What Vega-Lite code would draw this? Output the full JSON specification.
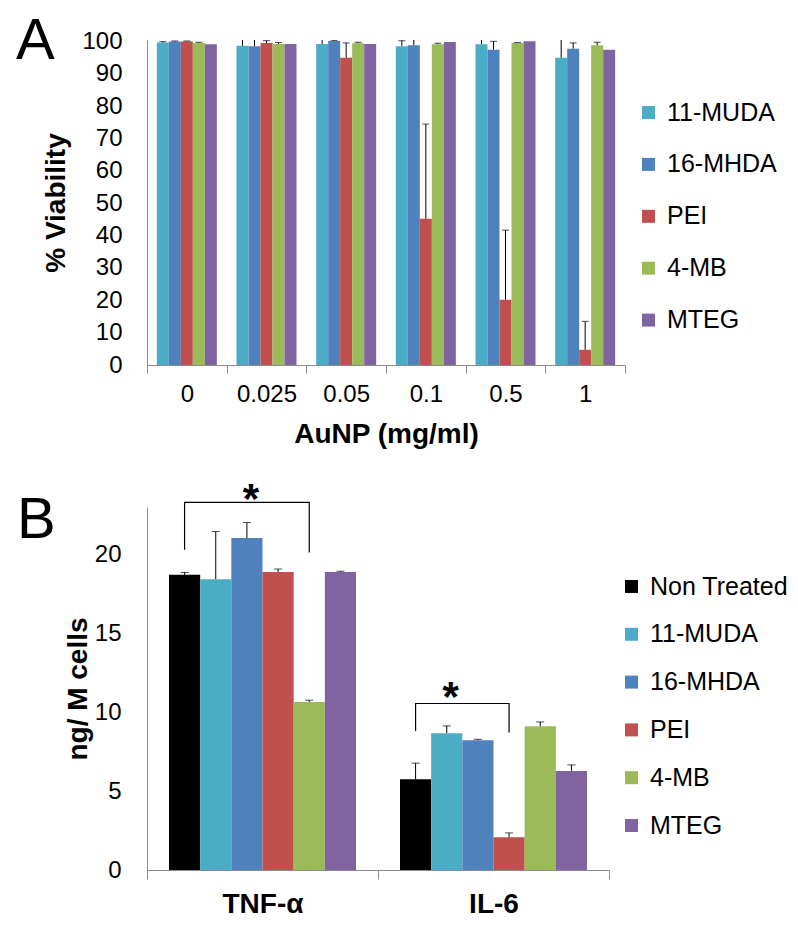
{
  "$schema": "https://vega.github.io/schema/vega-lite/v6.json",
  "background": "white",
  "padding": {"left": 16, "top": 12, "right": 5, "bottom": 5},
  "config": {
    "view": {"stroke": null},
    "font": "Liberation Sans",
    "axis": {"domainColor": "#8c8c8c", "tickColor": "#8c8c8c", "labelColor": "black", "titleColor": "black", "grid": false, "labelFont": "Liberation Sans", "titleFont": "Liberation Sans"},
    "legend": {"symbolType": "square", "symbolSize": 169, "symbolStrokeWidth": 0, "symbolOpacity": 1, "labelFontSize": 25, "labelFont": "Liberation Sans", "labelColor": "black", "labelOffset": 6, "padding": 0, "title": null}
  },
  "datasets": {
    "A": [
      {"conc": "0", "s": "11-MUDA", "v": 99.7, "hi": 100.0},
      {"conc": "0", "s": "16-MHDA", "v": 100.0, "hi": 100.2},
      {"conc": "0", "s": "PEI", "v": 100.0, "hi": 100.2},
      {"conc": "0", "s": "4-MB", "v": 99.6, "hi": 99.8},
      {"conc": "0", "s": "MTEG", "v": 99.2, "hi": 99.2},
      {"conc": "0.025", "s": "11-MUDA", "v": 98.7, "hi": 101},
      {"conc": "0.025", "s": "16-MHDA", "v": 98.6, "hi": 101},
      {"conc": "0.025", "s": "PEI", "v": 99.6, "hi": 100.3},
      {"conc": "0.025", "s": "4-MB", "v": 99.3, "hi": 99.7},
      {"conc": "0.025", "s": "MTEG", "v": 99.3, "hi": 99.3},
      {"conc": "0.05", "s": "11-MUDA", "v": 99.3, "hi": 101},
      {"conc": "0.05", "s": "16-MHDA", "v": 100.2, "hi": 100.4},
      {"conc": "0.05", "s": "PEI", "v": 95.0, "hi": 99.6},
      {"conc": "0.05", "s": "4-MB", "v": 99.5, "hi": 99.8},
      {"conc": "0.05", "s": "MTEG", "v": 99.3, "hi": 99.3},
      {"conc": "0.1", "s": "11-MUDA", "v": 98.6, "hi": 100.3},
      {"conc": "0.1", "s": "16-MHDA", "v": 98.9, "hi": 101},
      {"conc": "0.1", "s": "PEI", "v": 45.2, "hi": 74.5},
      {"conc": "0.1", "s": "4-MB", "v": 99.2, "hi": 99.5},
      {"conc": "0.1", "s": "MTEG", "v": 99.9, "hi": 99.9},
      {"conc": "0.5", "s": "11-MUDA", "v": 99.2, "hi": 101},
      {"conc": "0.5", "s": "16-MHDA", "v": 97.5, "hi": 100.1},
      {"conc": "0.5", "s": "PEI", "v": 20.2, "hi": 41.7},
      {"conc": "0.5", "s": "4-MB", "v": 99.6, "hi": 99.7},
      {"conc": "0.5", "s": "MTEG", "v": 100.1, "hi": 100.1},
      {"conc": "1", "s": "11-MUDA", "v": 95.0, "hi": 101},
      {"conc": "1", "s": "16-MHDA", "v": 97.8, "hi": 99.6},
      {"conc": "1", "s": "PEI", "v": 4.7, "hi": 13.5},
      {"conc": "1", "s": "4-MB", "v": 98.9, "hi": 99.8},
      {"conc": "1", "s": "MTEG", "v": 97.5, "hi": 97.5}
    ],
    "B": [
      {"grp": "TNF-α", "s": "Non Treated", "v": 18.7, "hi": 18.85},
      {"grp": "TNF-α", "s": "11-MUDA", "v": 18.43, "hi": 21.45},
      {"grp": "TNF-α", "s": "16-MHDA", "v": 21.03, "hi": 22.02},
      {"grp": "TNF-α", "s": "PEI", "v": 18.88, "hi": 19.07},
      {"grp": "TNF-α", "s": "4-MB", "v": 10.65, "hi": 10.76},
      {"grp": "TNF-α", "s": "MTEG", "v": 18.88, "hi": 18.93},
      {"grp": "IL-6", "s": "Non Treated", "v": 5.75, "hi": 6.77},
      {"grp": "IL-6", "s": "11-MUDA", "v": 8.67, "hi": 9.13},
      {"grp": "IL-6", "s": "16-MHDA", "v": 8.22, "hi": 8.28},
      {"grp": "IL-6", "s": "PEI", "v": 2.07, "hi": 2.35},
      {"grp": "IL-6", "s": "4-MB", "v": 9.11, "hi": 9.38},
      {"grp": "IL-6", "s": "MTEG", "v": 6.28, "hi": 6.66}
    ],
    "brackets": [
      {"grp": "TNF-α", "s": "Non Treated", "y": 20.29, "id": "t", "o": 1},
      {"grp": "TNF-α", "s": "Non Treated", "y": 23.29, "id": "t", "o": 2},
      {"grp": "TNF-α", "s": "4-MB", "y": 23.29, "id": "t", "o": 3},
      {"grp": "TNF-α", "s": "4-MB", "y": 20.12, "id": "t", "o": 4},
      {"grp": "IL-6", "s": "Non Treated", "y": 8.81, "id": "i", "o": 1},
      {"grp": "IL-6", "s": "Non Treated", "y": 10.55, "id": "i", "o": 2},
      {"grp": "IL-6", "s": "PEI", "y": 10.55, "id": "i", "o": 3},
      {"grp": "IL-6", "s": "PEI", "y": 8.71, "id": "i", "o": 4}
    ],
    "stars": [
      {"grp": "TNF-α", "s": "16-MHDA", "y": 22.64, "t": "*"},
      {"grp": "IL-6", "s": "11-MUDA", "y": 10.08, "t": "*"}
    ]
  },
  "columns": 1,
  "spacing": 30,
  "resolve": {"scale": {"color": "independent", "x": "independent", "y": "independent", "xOffset": "independent"}},
  "concat": [
    {
      "width": 478,
      "height": 325,
      "title": {"text": "A", "anchor": "start", "frame": "group", "fontSize": 58, "fontWeight": "normal", "font": "Liberation Sans", "color": "black", "baseline": "alphabetic", "offset": -55, "dx": -131, "dy": 32},
      "data": {"name": "A"},
      "encoding": {
        "x": {"field": "conc", "type": "nominal", "sort": ["0", "0.025", "0.05", "0.1", "0.5", "1"], "scale": {"paddingInner": 0, "paddingOuter": 0},
          "axis": {"title": "AuNP (mg/ml)", "labelAngle": 0, "labelFontSize": 24, "titleFontSize": 28, "titleFontWeight": "bold", "tickBand": "extent", "tickSize": 8, "labelPadding": 9, "titlePadding": 14}},
        "xOffset": {"field": "s", "type": "nominal", "sort": ["11-MUDA", "16-MHDA", "PEI", "4-MB", "MTEG"], "scale": {"paddingInner": 0, "paddingOuter": 0.82}}
      },
      "layer": [
        {
          "mark": {"type": "bar"},
          "encoding": {
            "y": {"field": "v", "type": "quantitative", "scale": {"domain": [0, 100.5], "nice": false},
              "axis": {"title": "% Viability", "values": [0, 10, 20, 30, 40, 50, 60, 70, 80, 90, 100], "labelOverlap": false, "labelSeparation": -10, "labelFontSize": 24, "titleFontSize": 28, "titleFontWeight": "bold", "ticks": false, "tickSize": 0, "labelPadding": 25, "titlePadding": 11}},
            "color": {"field": "s", "type": "nominal", "scale": {"domain": ["11-MUDA", "16-MHDA", "PEI", "4-MB", "MTEG"], "range": ["#4BACC6", "#4F81BD", "#C0504D", "#9BBB59", "#8064A2"]},
              "legend": {"orient": "none", "legendX": 489, "legendY": 60, "rowPadding": 25.9}}
          }
        },
        {
          "mark": {"type": "rule", "color": "black", "strokeWidth": 1, "clip": true},
          "encoding": {
            "y": {"field": "v", "type": "quantitative",
              "axis": {"title": "% Viability", "values": [0, 10, 20, 30, 40, 50, 60, 70, 80, 90, 100], "labelOverlap": false, "labelSeparation": -10, "labelFontSize": 24, "titleFontSize": 28, "titleFontWeight": "bold", "ticks": false, "tickSize": 0, "labelPadding": 25, "titlePadding": 11}},
            "y2": {"field": "hi"}
          }
        },
        {
          "transform": [{"filter": "datum.hi > datum.v"}],
          "mark": {"type": "tick", "color": "black", "thickness": 1, "size": 7, "orient": "horizontal", "clip": true},
          "encoding": {
            "y": {"field": "hi", "type": "quantitative",
              "axis": {"title": "% Viability", "values": [0, 10, 20, 30, 40, 50, 60, 70, 80, 90, 100], "labelOverlap": false, "labelSeparation": -10, "labelFontSize": 24, "titleFontSize": 28, "titleFontWeight": "bold", "ticks": false, "tickSize": 0, "labelPadding": 25, "titlePadding": 11}}
          }
        }
      ]
    },
    {
      "width": 462,
      "height": 363,
      "title": {"text": "B", "anchor": "start", "frame": "group", "fontSize": 58, "fontWeight": "normal", "font": "Liberation Sans", "color": "black", "baseline": "alphabetic", "offset": -82, "dx": -130, "dy": 35},
      "layer": [
        {
          "data": {"name": "B"},
          "mark": {"type": "bar"},
          "encoding": {
            "x": {"field": "grp", "type": "nominal", "sort": ["TNF-α", "IL-6"], "scale": {"paddingInner": 0, "paddingOuter": 0},
              "axis": {"title": null, "labelAngle": 0, "labelFontSize": 28, "labelFontWeight": "bold", "tickBand": "extent", "tickSize": 9, "labelPadding": 11}},
            "xOffset": {"field": "s", "type": "nominal", "sort": ["Non Treated", "11-MUDA", "16-MHDA", "PEI", "4-MB", "MTEG"], "scale": {"paddingInner": 0, "paddingOuter": 0.706}},
            "y": {"field": "v", "type": "quantitative", "scale": {"domain": [0, 23], "nice": false},
              "axis": {"title": "ng/ M cells", "values": [0, 5, 10, 15, 20], "labelOverlap": false, "labelFontSize": 24, "titleFontSize": 28, "titleFontWeight": "bold", "ticks": false, "tickSize": 0, "labelPadding": 26, "titlePadding": 2}},
            "color": {"field": "s", "type": "nominal", "scale": {"domain": ["Non Treated", "11-MUDA", "16-MHDA", "PEI", "4-MB", "MTEG"], "range": ["#000000", "#4BACC6", "#4F81BD", "#C0504D", "#9BBB59", "#8064A2"]},
              "legend": {"orient": "none", "legendX": 472, "legendY": 67, "rowPadding": 21.8}}
          }
        },
        {
          "data": {"name": "B"},
          "mark": {"type": "rule", "color": "black", "strokeWidth": 1},
          "encoding": {
            "x": {"field": "grp", "type": "nominal", "sort": ["TNF-α", "IL-6"]},
            "xOffset": {"field": "s", "type": "nominal", "sort": ["Non Treated", "11-MUDA", "16-MHDA", "PEI", "4-MB", "MTEG"]},
            "y": {"field": "v", "type": "quantitative"}, "y2": {"field": "hi"}
          }
        },
        {
          "data": {"name": "B"},
          "mark": {"type": "tick", "color": "black", "thickness": 1, "size": 8, "orient": "horizontal"},
          "encoding": {
            "x": {"field": "grp", "type": "nominal", "sort": ["TNF-α", "IL-6"]},
            "xOffset": {"field": "s", "type": "nominal", "sort": ["Non Treated", "11-MUDA", "16-MHDA", "PEI", "4-MB", "MTEG"]},
            "y": {"field": "hi", "type": "quantitative"}
          }
        },
        {
          "data": {"name": "brackets"},
          "mark": {"type": "line", "color": "black", "strokeWidth": 1.2},
          "encoding": {
            "x": {"field": "grp", "type": "nominal", "sort": ["TNF-α", "IL-6"]},
            "xOffset": {"field": "s", "type": "nominal", "sort": ["Non Treated", "11-MUDA", "16-MHDA", "PEI", "4-MB", "MTEG"]},
            "y": {"field": "y", "type": "quantitative"},
            "detail": {"field": "id"},
            "order": {"field": "o", "type": "quantitative"}
          }
        },
        {
          "data": {"name": "stars"},
          "mark": {"type": "text", "color": "black", "fontSize": 42, "fontWeight": "bold", "baseline": "alphabetic", "dx": 4},
          "encoding": {
            "x": {"field": "grp", "type": "nominal", "sort": ["TNF-α", "IL-6"]},
            "xOffset": {"field": "s", "type": "nominal", "sort": ["Non Treated", "11-MUDA", "16-MHDA", "PEI", "4-MB", "MTEG"]},
            "y": {"field": "y", "type": "quantitative"},
            "text": {"field": "t"}
          }
        }
      ]
    }
  ]
}
